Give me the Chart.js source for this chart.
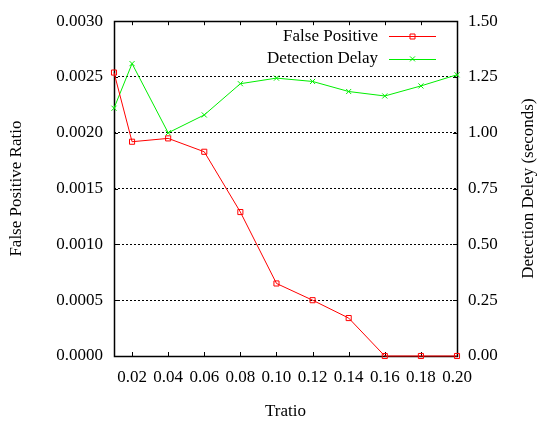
<!DOCTYPE html>
<html>
<head>
<meta charset="utf-8">
<script src="https://cdn.jsdelivr.net/npm/chart.js"></script>
<style>
    body { margin: 0; background: #fff; }
    canvas { display: block; }
</style>
</head>
<body>
<canvas id="myChart" width="539" height="424"></canvas>
<script>
// data
const tratio = [0.01, 0.02, 0.04, 0.06, 0.08, 0.10, 0.12, 0.14, 0.16, 0.18, 0.20];
const falsePositive = [0.00254, 0.00192, 0.00195, 0.00183, 0.00129, 0.00065, 0.00050, 0.00034, 0, 0, 0];
const detectionDelay = [1.11, 1.31, 1.00, 1.08, 1.22, 1.245, 1.23, 1.185, 1.165, 1.21, 1.26];
const xTicks = [0.02, 0.04, 0.06, 0.08, 0.10, 0.12, 0.14, 0.16, 0.18, 0.20];

const RED = '#ff0000';
const GREEN = '#00ee00';
const FONT = "17px 'Liberation Serif', 'DejaVu Serif', serif";

Chart.defaults.font.family = "'Liberation Serif', 'DejaVu Serif', serif";
Chart.defaults.font.size = 17;
Chart.defaults.color = '#000';

// frame + inward tick marks like gnuplot
const framePlugin = {
    id: 'frame',
    beforeDatasetsDraw(chart) {
        const {ctx, chartArea: a, scales} = chart;
        ctx.save();
        ctx.strokeStyle = '#000';
        ctx.lineWidth = 1;
        ctx.beginPath();
        xTicks.forEach(v => {
            const px = Math.round(scales.x.getPixelForValue(v)) + 0.5;
            ctx.moveTo(px, a.bottom);
            ctx.lineTo(px, a.bottom - 4);
            ctx.moveTo(px, a.top);
            ctx.lineTo(px, a.top + 4);
        });
        scales.y.ticks.forEach(t => {
            const py = Math.round(scales.y.getPixelForValue(t.value)) + 0.5;
            ctx.moveTo(a.left, py);
            ctx.lineTo(a.left + 4, py);
        });
        scales.y2.ticks.forEach(t => {
            const py = Math.round(scales.y2.getPixelForValue(t.value)) + 0.5;
            ctx.moveTo(a.right, py);
            ctx.lineTo(a.right - 4, py);
        });
        ctx.stroke();
        ctx.lineWidth = 1.5;
        ctx.strokeRect(Math.round(a.left) + 0.5, Math.round(a.top) + 0.5,
            Math.round(a.right - a.left), Math.round(a.bottom - a.top));

        // right axis title reads bottom-to-top in the reference
        ctx.font = FONT;
        ctx.fillStyle = '#000';
        ctx.textAlign = 'center';
        ctx.textBaseline = 'middle';
        ctx.translate(529, (a.top + a.bottom) / 2);
        ctx.rotate(-Math.PI / 2);
        ctx.fillText('Detection Deley (seconds)', 0, 0);
        ctx.restore();
    }
};

// legend: text on the left, sample line + marker on the right
const keyPlugin = {
    id: 'key',
    afterDatasetsDraw(chart) {
        const {ctx, chartArea: a} = chart;
        ctx.save();
        ctx.font = FONT;
        ctx.textAlign = 'right';
        ctx.textBaseline = 'middle';
        chart.data.datasets.forEach((ds, i) => {
            const y = a.top + 15 + i * 22.7;
            const x1 = a.right - 68, x2 = a.right - 21, xm = (x1 + x2) / 2;
            ctx.fillStyle = '#000';
            ctx.fillText(ds.label, a.right - 79, y);
            ctx.strokeStyle = ds.borderColor;
            ctx.lineWidth = 1;
            ctx.beginPath();
            ctx.moveTo(x1, Math.round(y) + 0.5);
            ctx.lineTo(x2, Math.round(y) + 0.5);
            ctx.stroke();
            ctx.beginPath();
            if (ds.pointStyle === 'rect') {
                ctx.rect(xm - 2.5, Math.round(y) - 2, 5, 5);
            } else {
                ctx.moveTo(xm - 2.5, y - 2.5); ctx.lineTo(xm + 2.5, y + 2.5);
                ctx.moveTo(xm + 2.5, y - 2.5); ctx.lineTo(xm - 2.5, y + 2.5);
            }
            ctx.stroke();
        });
        ctx.restore();
    }
};

const ctx = document.querySelector('#myChart');
new Chart(ctx, {
    type: 'line',
    data: {
        datasets: [
            {
                label: 'False Positive',
                data: tratio.map((t, i) => ({x: t, y: falsePositive[i]})),
                yAxisID: 'y',
                borderColor: RED,
                backgroundColor: 'transparent',
                borderWidth: 1,
                pointStyle: 'rect',
                pointRadius: 3.6,
                pointBorderWidth: 1,
                tension: 0,
                clip: false
            },
            {
                label: 'Detection Delay',
                data: tratio.map((t, i) => ({x: t, y: detectionDelay[i]})),
                yAxisID: 'y2',
                borderColor: GREEN,
                backgroundColor: 'transparent',
                borderWidth: 1,
                pointStyle: 'crossRot',
                pointRadius: 3.6,
                pointBorderWidth: 1,
                tension: 0,
                clip: false
            }
        ]
    },
    options: {
        responsive: false,
        animation: false,
        layout: {padding: {top: 14, left: 0, right: 0, bottom: 0}},
        plugins: {
            legend: {display: false},
            tooltip: {enabled: false}
        },
        scales: {
            x: {
                type: 'linear',
                min: 0.01,
                max: 0.20,
                afterBuildTicks: scale => { scale.ticks = xTicks.map(v => ({value: v})); },
                afterFit: scale => { scale.height = 68; },
                ticks: {padding: 11, maxRotation: 0, autoSkip: false, callback: v => v.toFixed(2)},
                grid: {display: false, drawTicks: false},
                border: {display: false},
                title: {display: true, text: 'Tratio', padding: {top: 0, bottom: 2}}
            },
            y: {
                position: 'left',
                min: 0,
                max: 0.003,
                afterFit: scale => { scale.width = 114; },
                ticks: {stepSize: 0.0005, padding: 11, callback: v => v.toFixed(4)},
                grid: {
                    drawTicks: false,
                    lineWidth: 1,
                    color: c => (c.index === 0 || c.tick.value >= 0.003 - 1e-9) ? 'transparent' : '#000'
                },
                border: {display: false, dash: [2, 2]},
                title: {display: true, text: 'False Positive Ratio', padding: {top: 6, bottom: 0}}
            },
            y2: {
                position: 'right',
                min: 0,
                max: 1.5,
                afterFit: scale => { scale.width = 82; },
                ticks: {stepSize: 0.25, padding: 11, callback: v => v.toFixed(2)},
                grid: {display: false, drawTicks: false},
                border: {display: false},
                title: {display: false}
            }
        }
    },
    plugins: [framePlugin, keyPlugin]
});
</script>
</body>
</html>
